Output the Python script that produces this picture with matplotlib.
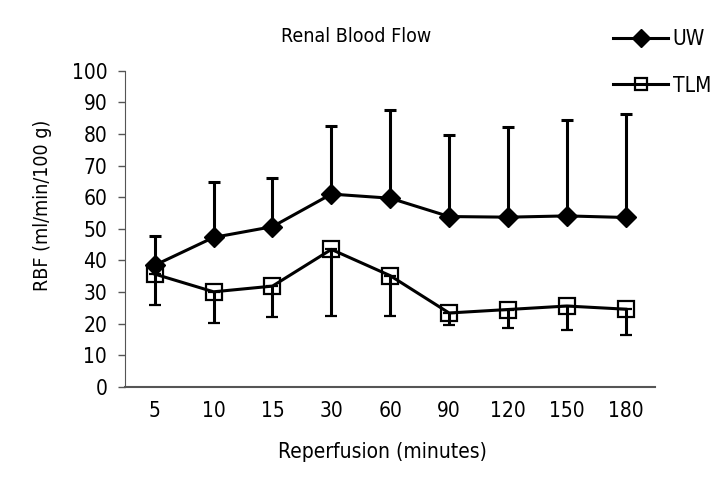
import numpy as np
import matplotlib
matplotlib.use("Agg")
import matplotlib.pyplot as plt
from matplotlib.lines import Line2D

plt.rcParams['font.family'] = ['DejaVu Sans']
plt.rcParams['font.stretch'] = 'condensed'

minutes = ['5', '10', '15', '30', '60', '90', '120', '150', '180']

# UW group: mean and upper error bar end
uw_mean = [38.5, 47.3, 50.7, 61.0, 59.7, 53.9, 53.7, 54.1, 53.6]
uw_top = [47.7, 64.9, 66.0, 82.4, 87.6, 79.6, 82.2, 84.4, 86.3]

# TLM group: mean and lower error bar end
tlm_mean = [35.7, 30.1, 31.9, 43.5, 35.2, 23.4, 24.5, 25.6, 24.6]
tlm_low = [25.9, 20.3, 22.2, 22.5, 22.5, 19.5, 18.8, 18.0, 16.4]

X = np.arange(len(minutes))
uw_err = [np.zeros(len(X)), np.array(uw_top) - np.array(uw_mean)]
tlm_err = [np.array(tlm_mean) - np.array(tlm_low), np.zeros(len(X))]

fig = plt.figure(figsize=(7.2, 4.88), dpi=100)
ax = fig.add_axes([0.174, 0.207, 0.736, 0.648])

ax.errorbar(X, tlm_mean, yerr=tlm_err, color='black', lw=2.2, marker='s',
            markersize=12, markerfacecolor='none', markeredgewidth=1.6,
            capsize=4, capthick=2.2, elinewidth=2.2, zorder=2)
ax.errorbar(X, uw_mean, yerr=uw_err, color='black', lw=2.2, marker='D',
            markersize=10, capsize=4, capthick=2.2, elinewidth=2.2, zorder=3)

ax.set_xlim(-0.5, 8.5)
ax.set_ylim(0, 100)
ax.set_yticks(range(0, 101, 10))
ax.set_xticks(X, minutes)
ax.tick_params(axis='x', length=0, labelsize=15, pad=10)
ax.tick_params(axis='y', length=5, width=1, labelsize=15, pad=8, color='#555555')
for s in ['top', 'right']:
    ax.spines[s].set_visible(False)
ax.spines['left'].set_color('#555555')
ax.spines['bottom'].set_color('#555555')
ax.spines['bottom'].set_linewidth(1.5)

ax.set_title('Renal Blood Flow', fontsize=14, x=0.436, pad=21)
ax.set_xlabel('Reperfusion (minutes)', fontsize=15)
ax.xaxis.set_label_coords(0.485, -0.175)
ax.set_ylabel('RBF (ml/min/100 g)', fontsize=14)
ax.yaxis.set_label_coords(-0.138, 0.573)

handles = [
    Line2D([], [], color='black', lw=2.2, marker='D', markersize=9),
    Line2D([], [], color='black', lw=2.2, marker='s', markersize=8,
           markerfacecolor='none', markeredgewidth=1.6),
]
fig.legend(handles, ['UW', 'TLM'], loc='upper left',
           bbox_to_anchor=(0.826, 0.978), frameon=False, fontsize=15,
           labelspacing=1.25, handlelength=2.6, handletextpad=0.25)

plt.savefig('out.png', dpi=100)
